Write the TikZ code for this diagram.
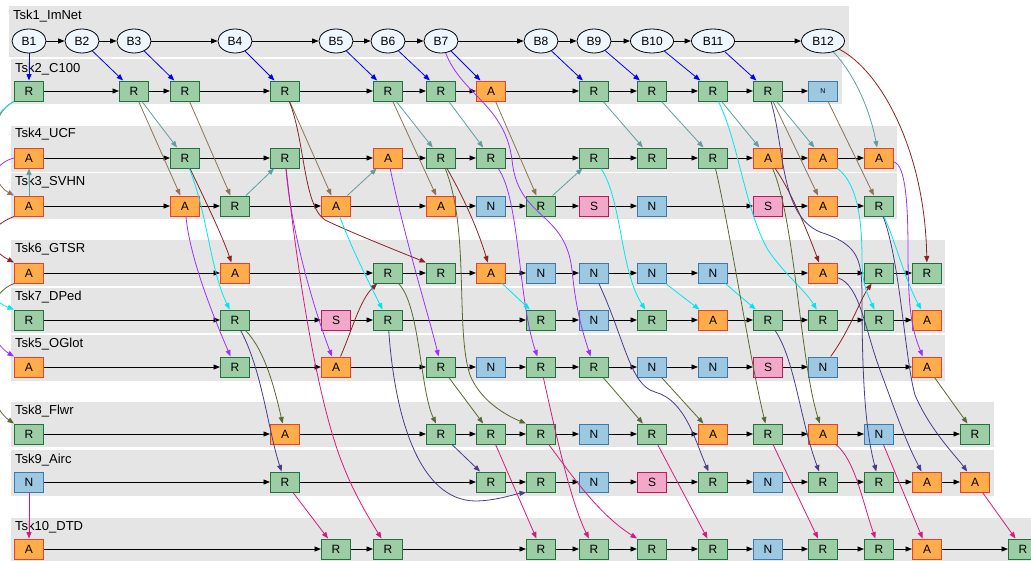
\documentclass[tikz,border=0pt]{standalone}
\usepackage{fontspec}
\setmainfont{Liberation Sans}
\usetikzlibrary{arrows.meta,shapes.geometric}
\definecolor{clgray}{HTML}{E5E5E5}
\definecolor{rfill}{HTML}{9CCDA5}
\definecolor{rdraw}{HTML}{23703F}
\definecolor{afill}{HTML}{FFAD4A}
\definecolor{adraw}{HTML}{E8402C}
\definecolor{nfill}{HTML}{9DC8E2}
\definecolor{ndraw}{HTML}{3B7AAE}
\definecolor{sfill}{HTML}{F2A9C9}
\definecolor{sdraw}{HTML}{C2185B}
\definecolor{efill}{HTML}{EEF6FF}
\definecolor{cBlue}{HTML}{0000FF}
\definecolor{cTeal}{HTML}{5F9EA0}
\definecolor{cBrown}{HTML}{8B7355}
\definecolor{cDred}{HTML}{8B2323}
\definecolor{cCyan}{HTML}{00E5EE}
\definecolor{cPurp}{HTML}{9B30FF}
\definecolor{cOlive}{HTML}{556B2F}
\definecolor{cSlate}{HTML}{483D8B}
\definecolor{cPink}{HTML}{D41B7D}
\begin{document}
\begin{tikzpicture}[x=1pt,y=-1pt,
  box/.style={draw, rectangle, minimum width=29pt, minimum height=20pt, inner sep=0pt, line width=1pt, font=\fontsize{12}{14}\selectfont},
  rb/.style={box, fill=rfill, draw=rdraw},
  ab/.style={box, fill=afill, draw=adraw},
  nb/.style={box, fill=nfill, draw=ndraw},
  sb/.style={box, fill=sfill, draw=sdraw},
  bb/.style={ellipse, draw=black, fill=efill, line width=0.8pt, minimum width=34pt, minimum height=24pt, inner sep=0pt, font=\fontsize{12}{14}\selectfont},
  bw/.style={bb, minimum width=43pt},
  lab/.style={anchor=base west, inner sep=0pt, font=\fontsize{13}{15}\selectfont},
  panel/.style={fill=clgray, draw=none},
  tip/.style={-{Triangle[length=6.5pt,width=5pt]}},
  flow/.style={tip, draw=black, line width=0.9pt},
  link/.style={tip, line width=0.8pt},
  e2/.style={link, draw=cBlue},
  e3/.style={link, draw=cBrown},
  e4/.style={link, draw=cTeal},
  e5/.style={link, draw=cPurp},
  e6/.style={link, draw=cDred},
  e7/.style={link, draw=cCyan},
  e8/.style={link, draw=cOlive},
  e9/.style={link, draw=cSlate},
  e10/.style={link, draw=cPink},
]
\useasboundingbox (0,0) rectangle (1031,560);
\clip (0,0) rectangle (1031,560);

% task panels
\fill[panel] (9,6) rectangle (849,57);
\fill[panel] (11,59) rectangle (842,104);
\fill[panel] (11,126) rectangle (897,172);
\fill[panel] (11,173) rectangle (897,219);
\fill[panel] (11,240) rectangle (945,286);
\fill[panel] (11,288) rectangle (945,333);
\fill[panel] (11,335) rectangle (945,381);
\fill[panel] (11,402) rectangle (994,447);
\fill[panel] (11,450) rectangle (994,496);
\fill[panel] (11,518) rectangle (1040,570);

\node[lab] (l1) at (13,19) {Tsk1\_ImNet};
\node[lab] (l2) at (15,72) {Tsk2\_C100};
\node[lab] (l4) at (15,137) {Tsk4\_UCF};
\node[lab] (l3) at (15,185) {Tsk3\_SVHN};
\node[lab] (l6) at (15,252) {Tsk6\_GTSR};
\node[lab] (l7) at (15,300) {Tsk7\_DPed};
\node[lab] (l5) at (15,347) {Tsk5\_OGlot};
\node[lab] (l8) at (15,414) {Tsk8\_Flwr};
\node[lab] (l9) at (15,463) {Tsk9\_Airc};
\node[lab] (l10) at (15,530) {Tsk10\_DTD};

\def\colx{{0,29,82,134,185,235,285,336,388,441,491,541,594,652,713,768,823,879,927,975,1023}}

% Tsk1 blocks
\foreach \c/\t/\l in {1/bb/B1,2/bb/B2,3/bb/B3,5/bb/B4,7/bb/B5,8/bb/B6,9/bb/B7,11/bb/B8,12/bb/B9,13/bw/B10,14/bw/B11,16/bw/B12}
  {\pgfmathsetmacro\xx{\colx[\c]}\node[\t] (a\c) at (\xx,41) {\l};}
% Tsk2
\foreach \c/\t/\l in {1/rb/R,3/rb/R,4/rb/R,6/rb/R,8/rb/R,9/rb/R,10/ab/A,12/rb/R,13/rb/R,14/rb/R,15/rb/R}
  {\pgfmathsetmacro\xx{\colx[\c]}\node[\t] (b\c) at (\xx,91) {\l};}
\node[nb, font=\fontsize{7}{8}\selectfont] (b16) at (823,91) {N};
% Tsk4
\foreach \c/\t/\l in {1/ab/A,4/rb/R,6/rb/R,8/ab/A,9/rb/R,10/rb/R,12/rb/R,13/rb/R,14/rb/R,15/ab/A,16/ab/A,17/ab/A}
  {\pgfmathsetmacro\xx{\colx[\c]}\node[\t] (d\c) at (\xx,158) {\l};}
% Tsk3
\foreach \c/\t/\l in {1/ab/A,4/ab/A,5/rb/R,7/ab/A,9/ab/A,10/nb/N,11/rb/R,12/sb/S,13/nb/N,15/sb/S,16/ab/A,17/rb/R}
  {\pgfmathsetmacro\xx{\colx[\c]}\node[\t] (c\c) at (\xx,206) {\l};}
% Tsk6
\foreach \c/\t/\l in {1/ab/A,5/ab/A,8/rb/R,9/rb/R,10/ab/A,11/nb/N,12/nb/N,13/nb/N,14/nb/N,16/ab/A,17/rb/R,18/rb/R}
  {\pgfmathsetmacro\xx{\colx[\c]}\node[\t] (f\c) at (\xx,273) {\l};}
% Tsk7
\foreach \c/\t/\l in {1/rb/R,5/rb/R,7/sb/S,8/rb/R,11/rb/R,12/nb/N,13/rb/R,14/ab/A,15/rb/R,16/rb/R,17/rb/R,18/ab/A}
  {\pgfmathsetmacro\xx{\colx[\c]}\node[\t] (g\c) at (\xx,320) {\l};}
% Tsk5
\foreach \c/\t/\l in {1/ab/A,5/rb/R,7/ab/A,9/rb/R,10/nb/N,11/rb/R,12/rb/R,13/nb/N,14/nb/N,15/sb/S,16/nb/N,18/ab/A}
  {\pgfmathsetmacro\xx{\colx[\c]}\node[\t] (e\c) at (\xx,367) {\l};}
% Tsk8
\foreach \c/\t/\l in {1/rb/R,6/ab/A,9/rb/R,10/rb/R,11/rb/R,12/nb/N,13/rb/R,14/ab/A,15/rb/R,16/ab/A,17/nb/N,19/rb/R}
  {\pgfmathsetmacro\xx{\colx[\c]}\node[\t] (h\c) at (\xx,434) {\l};}
% Tsk9
\foreach \c/\t/\l in {1/nb/N,6/rb/R,10/rb/R,11/rb/R,12/nb/N,13/sb/S,14/rb/R,15/nb/N,16/rb/R,17/rb/R,18/ab/A,19/ab/A}
  {\pgfmathsetmacro\xx{\colx[\c]}\node[\t] (i\c) at (\xx,482) {\l};}
% Tsk10
\foreach \c/\t/\l in {1/ab/A,7/rb/R,8/rb/R,11/rb/R,12/rb/R,13/rb/R,14/rb/R,15/nb/N,16/rb/R,17/rb/R,18/ab/A,20/rb/R}
  {\pgfmathsetmacro\xx{\colx[\c]}\node[\t] (j\c) at (\xx,549) {\l};}

% sequential flow inside each task
\foreach \u/\v in {a1/a2,a2/a3,a3/a5,a5/a7,a7/a8,a8/a9,a9/a11,a11/a12,a12/a13,a13/a14,a14/a16,
  b1/b3,b3/b4,b4/b6,b6/b8,b8/b9,b9/b10,b10/b12,b12/b13,b13/b14,b14/b15,b15/b16,
  d1/d4,d4/d6,d6/d8,d8/d9,d9/d10,d10/d12,d12/d13,d13/d14,d14/d15,d15/d16,d16/d17,
  c1/c4,c4/c5,c5/c7,c7/c9,c9/c10,c10/c11,c11/c12,c12/c13,c13/c15,c15/c16,c16/c17,
  f1/f5,f5/f8,f8/f9,f9/f10,f10/f11,f11/f12,f12/f13,f13/f14,f14/f16,f16/f17,f17/f18,
  g1/g5,g5/g7,g7/g8,g8/g11,g11/g12,g12/g13,g13/g14,g14/g15,g15/g16,g16/g17,g17/g18,
  e1/e5,e5/e7,e7/e9,e9/e10,e10/e11,e11/e12,e12/e13,e13/e14,e14/e15,e15/e16,e16/e18,
  h1/h6,h6/h9,h9/h10,h10/h11,h11/h12,h12/h13,h13/h14,h14/h15,h15/h16,h16/h17,h17/h19,
  i1/i6,i6/i10,i10/i11,i11/i12,i12/i13,i13/i14,i14/i15,i15/i16,i16/i17,i17/i18,i18/i19,
  j1/j7,j7/j8,j8/j11,j11/j12,j12/j13,j13/j14,j14/j15,j15/j16,j16/j17,j17/j18,j18/j20}
  {\draw[flow] (\u) -- (\v);}

% into Tsk2
\foreach \u/\v in {a1/b1,a2/b3,a3/b4,a5/b6,a7/b8,a8/b9,a9/b10,a11/b12,a12/b13,a13/b14,a14/b15}
  {\draw[e2] (\u) -- (\v);}

% into Tsk3
\draw[e3] (b1.south west) .. controls (-15,115) and (-15,180) .. (c1.north west);
\foreach \u/\v in {b3/c4,b4/c5,b6/c7,b8/c9,b10/c11,b15/c16,b16/c17}
  {\draw[e3] (\u) -- (\v);}

% into Tsk4
\foreach \u/\v in {c1/d1,b3/d4,c5/d6,c7/d8,b8/d9,b9/d10,c11/d12,b12/d13,b13/d14,b14/d15,b15/d16}
  {\draw[e4] (\u) -- (\v);}
\draw[e4] (a16) .. controls (855,75) and (870,110) .. (d17);

% into Tsk5
\draw[e5] (d1.west) .. controls (-40,170) and (-30,330) .. (e1.north west);
\draw[e5] (c4) .. controls (190,260) and (215,320) .. (e5);
\draw[e5] (d6) .. controls (292,240) and (318,320) .. (e7);
\draw[e5] (d8) .. controls (405,240) and (430,320) .. (e9);
\draw[e5] (d10) .. controls (520,200) and (518,300) .. (e11);
\draw[e5] (a9) .. controls (462,95) and (505,105) .. (512,160) .. controls (518,220) and (565,210) .. (572,270) .. controls (576,310) and (582,330) .. (e12);
\draw[e5] (d17) .. controls (905,165) and (908,200) .. (908,250) .. controls (908,310) and (912,330) .. (e18);

% into Tsk6
\draw[e6] (c1.south west) .. controls (-20,230) and (-10,250) .. (f1.north west);
\draw[e6] (d4) .. controls (205,200) and (222,235) .. (f5);
\draw[e6] (e7) .. controls (352,330) and (360,300) .. (f8);
\draw[e6] (b6) .. controls (305,140) and (303,205) .. (325,220) .. controls (350,232) and (390,248) .. (f9.north west);
\draw[e6] (d9) .. controls (465,200) and (478,230) .. (f10);
\draw[e6] (d15) .. controls (790,190) and (805,225) .. (f16);
\draw[e6] (e16) .. controls (850,330) and (860,300) .. (f17);
\draw[e6] (a16) .. controls (880,70) and (925,150) .. (f18);

% into Tsk7
\draw[e7] (b1.south west) .. controls (-40,130) and (-40,290) .. (g1.north west);
\draw[e7] (d4) .. controls (208,215) and (210,270) .. (g5);
\draw[e7] (c7) .. controls (350,245) and (370,285) .. (g8);
\draw[e7] (f10) -- (g11);
\draw[e7] (d12) .. controls (622,200) and (620,270) .. (g13);
\draw[e7] (f13) -- (g14);
\draw[e7] (f14) -- (g15);
\draw[e7] (b14) .. controls (738,140) and (745,210) .. (768,250) .. controls (785,275) and (805,290) .. (g16);
\draw[e7] (d16) .. controls (860,185) and (862,230) .. (862,260) .. controls (862,285) and (868,295) .. (g17);
\draw[e7] (c17) .. controls (895,240) and (905,280) .. (g18);

% into Tsk8
\draw[e8] (f1.south west) .. controls (-30,300) and (-20,400) .. (h1.north west);
\draw[e8] (g5) .. controls (265,350) and (275,390) .. (h6);
\draw[e8] (f8) .. controls (420,305) and (420,390) .. (h9);
\draw[e8] (e9) -- (h10);
\draw[e8] (d9) .. controls (470,230) and (455,330) .. (470,375) .. controls (480,400) and (505,415) .. (h11.north west);
\draw[e8] (e12) -- (h13);
\draw[e8] (e13) -- (h14);
\draw[e8] (d14) .. controls (730,230) and (750,360) .. (h15);
\draw[e8] (d15) .. controls (795,220) and (800,360) .. (h16);
\draw[e8] (e18) -- (h19);

% into Tsk9
\draw[e9] (g5) .. controls (262,370) and (268,430) .. (i6);
\draw[e9] (h9) -- (i10);
\draw[e9] (g8) .. controls (395,420) and (420,500) .. (475,501) .. controls (495,501) and (515,494) .. (i11.south west);
\draw[e9] (f12) .. controls (625,340) and (630,385) .. (655,392) .. controls (685,400) and (695,440) .. (i14);
\draw[e9] (g15) .. controls (795,360) and (800,420) .. (i16);
\draw[e9] (b15) .. controls (785,150) and (780,215) .. (820,232) .. controls (860,245) and (862,260) .. (862,300) .. controls (862,400) and (868,440) .. (i17);
\draw[e9] (f16) .. controls (860,285) and (865,330) .. (880,370) .. controls (895,410) and (905,440) .. (i18);
\draw[e9] (c17) .. controls (900,260) and (905,360) .. (915,395) .. controls (930,430) and (955,455) .. (i19);

% into Tsk10
\draw[e10] (i1) -- (j1);
\draw[e10] (i6) -- (j7);
\draw[e10] (d6) .. controls (295,250) and (315,400) .. (345,470) .. controls (355,495) and (370,520) .. (j8);
\draw[e10] (h10) -- (j11);
\draw[e10] (e11) .. controls (555,430) and (570,500) .. (j12);
\draw[e10] (h11) .. controls (575,480) and (600,515) .. (j13.north west);
\draw[e10] (h13) -- (j14);
\draw[e10] (h15) -- (j16);
\draw[e10] (h16) .. controls (855,460) and (862,500) .. (j17);
\draw[e10] (h17) -- (j18);
\draw[e10] (i19) -- (j20);
\end{tikzpicture}
\end{document}
